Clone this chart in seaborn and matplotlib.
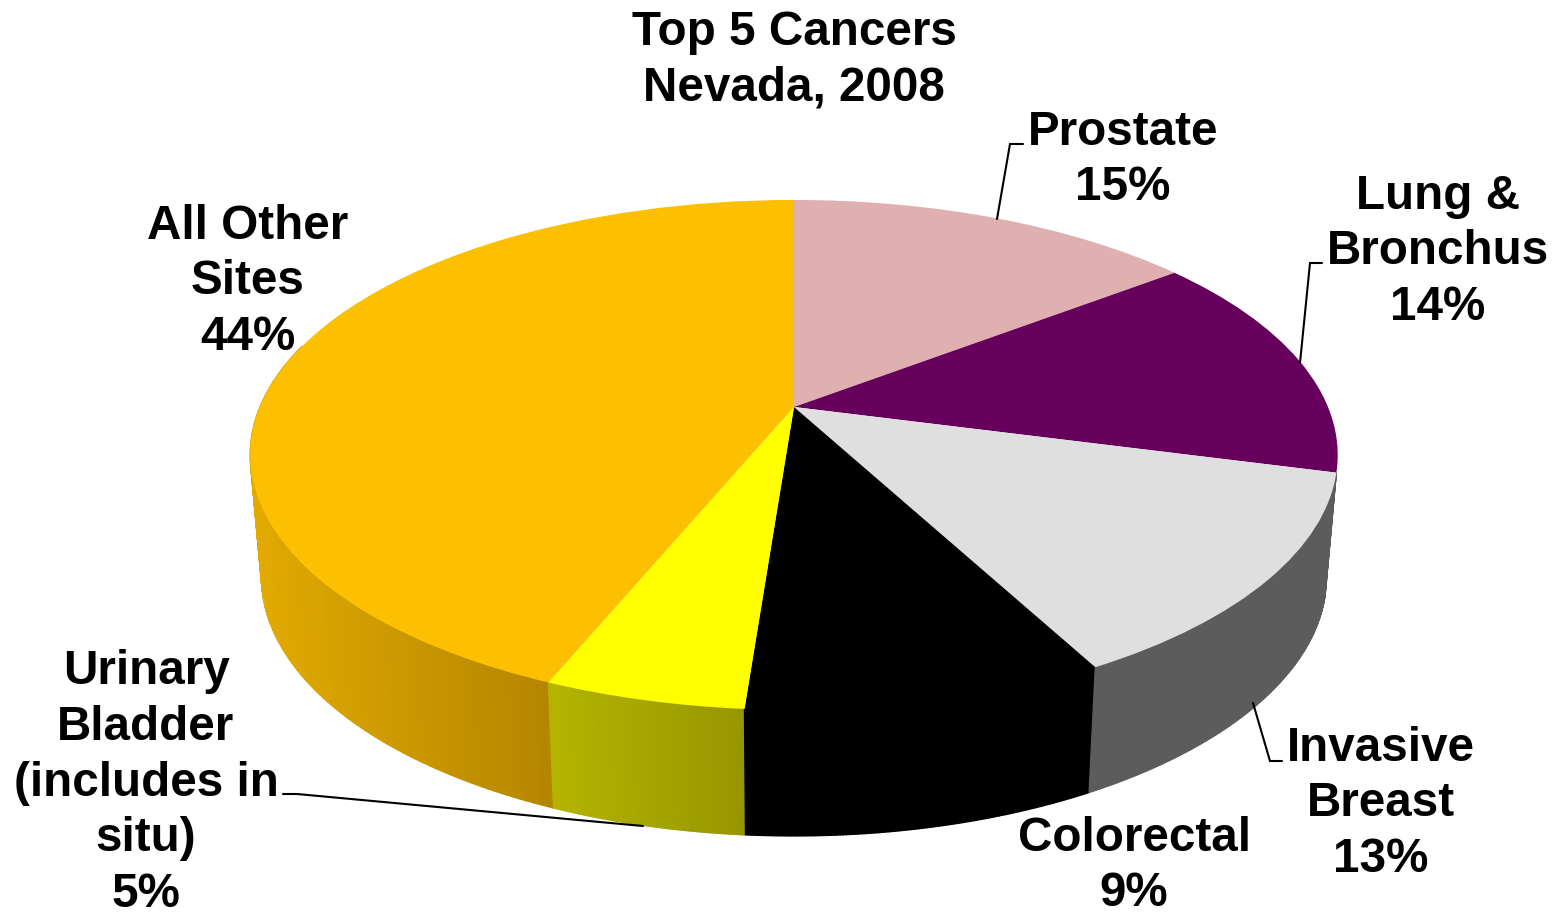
import matplotlib
matplotlib.use("Agg")
import matplotlib.pyplot as plt
from matplotlib.transforms import Transform
import numpy as np
import seaborn as sns

sites = ["Prostate", "Lung &\nBronchus", "Invasive\nBreast", "Colorectal",
         "Urinary\nBladder\n(includes in\nsitu)", "All Other\nSites"]
# labels only show whole numbers, slice sizes
shares = [14.6, 14.49, 13.11, 9.0, 5.0, 43.8]
top_colors = ["#E0B0B0", "#66005C", "#DFDFDF", "#000000", "#FFFF00", "#FDC000"]
side_left = [None, None, "#5C5C5C", "#000000", "#B4B400", "#E2AA00"]
side_right = [None, None, "#5C5C5C", "#000000", "#969600", "#B48600"]

# fake 3d: perspective of the unit circle, fitted on the picture
CX, CY, TILT = 794, 407, 0.188
TOP_FACE = (534, 246, CY)
BOTTOM_FACE = (523, 250, 528)


def project(x, y, face):
    a, b, y0 = face
    w = 1 + TILT * y
    return CX + a * x / w, y0 - b * y / w


class Perspective(Transform):
    input_dims = 2
    output_dims = 2
    is_separable = False
    has_inverse = False

    def transform_non_affine(self, values):
        x, y = project(values[:, 0], values[:, 1], TOP_FACE)
        return np.column_stack([x, y])


def draw_wall(ax, start, stop, left, right):
    # thin quads with a left to right gradient
    theta = 2 * np.pi * np.linspace(start, stop, 120)
    xt, yt = project(np.sin(theta), np.cos(theta), TOP_FACE)
    xb, yb = project(np.sin(theta), np.cos(theta), BOTTOM_FACE)
    cmap = sns.blend_palette([left, right], as_cmap=True)
    pos = (xb - xb.min()) / (xb.max() - xb.min())
    for i in range(len(theta) - 1):
        c = cmap((pos[i] + pos[i + 1]) / 2)
        ax.fill([xt[i], xt[i + 1], xb[i + 1], xb[i]],
                [yt[i], yt[i + 1], yb[i + 1], yb[i]],
                color=c, lw=1.0, zorder=1)


sns.set_theme(style="white")
plt.rcParams["font.family"] = ["Liberation Sans", "DejaVu Sans"]

fig = plt.figure(figsize=(15.62, 9.15), dpi=100)
ax = fig.add_axes([0, 0, 1, 1])

wedges, _ = ax.pie(shares, colors=sns.color_palette(top_colors), startangle=90,
                   counterclock=False, wedgeprops={"linewidth": 0})
ax.set(xlim=(0, 1562), ylim=(915, 0), aspect="auto")
ax.axis("off")

persp = Perspective() + ax.transData
for w in wedges:
    w.set_transform(persp)
    w.set_zorder(2)

edges = np.cumsum([0] + shares) / sum(shares)
# walls are hidden behind the top face past 285 degrees
for i in [5, 4, 3, 2]:
    draw_wall(ax, edges[i], min(edges[i + 1], 285 / 360), side_left[i], side_right[i])

txt = dict(ha="center", va="center", fontsize=34.3, fontweight="bold",
           color="black", linespacing=1.307, zorder=4)
ax.text(794, 60.5, "Top 5 Cancers\nNevada, 2008", **txt)
label_xy = [(1123, 160), (1438, 252), (1381, 804), (1134, 866), (146, 783), (248, 282)]
for name, share, (lx, ly) in zip(sites, shares, label_xy):
    ax.text(lx, ly, f"{name}\n{round(share)}%", **txt)

# leader lines
leaders = [
    ([1023, 1010, 997], [144, 144, 219]),
    ([1322, 1310, 1300], [263, 263, 363]),
    ([1282, 1270, 1253], [761, 761, 703]),
    ([283, 297, 643], [794, 794, 826]),
]
for lx, ly in leaders:
    ax.plot(lx, ly, color="black", lw=1.5, zorder=3, solid_joinstyle="miter")

fig.savefig("out.png", dpi=100)
